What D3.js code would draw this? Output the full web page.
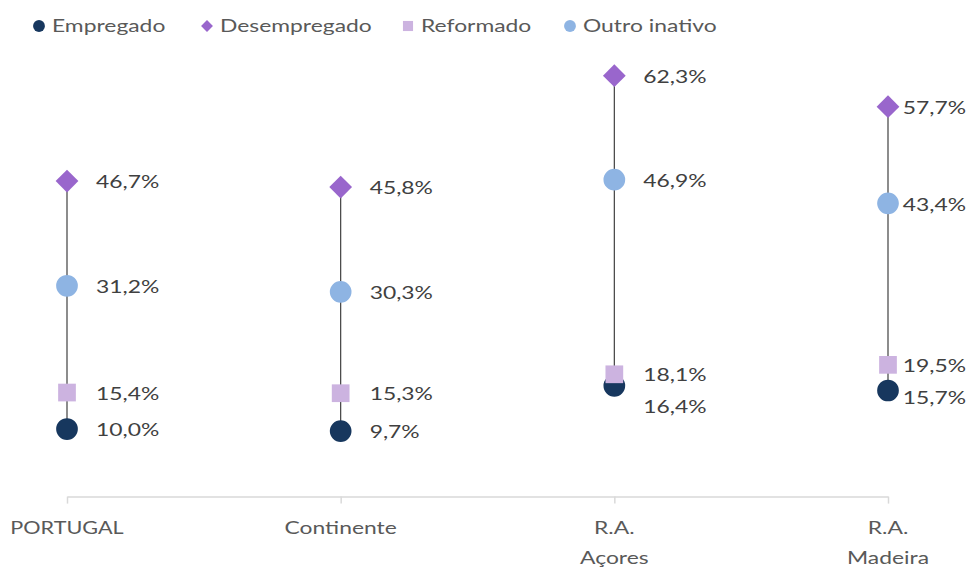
<!DOCTYPE html>
<html>
<head>
<meta charset="utf-8">
<script src="https://cdn.jsdelivr.net/npm/d3@7"></script>
<style>
  body { margin: 0; background: #fff; }
  svg text { font-family: Lato, "Open Sans", sans-serif; }
</style>
</head>
<body>
<div class="chart-container"></div>
<script>
// data
const categories = ["PORTUGAL", "Continente", "R.A. Açores", "R.A. Madeira"];
const seriesNames = ["Empregado", "Desempregado", "Reformado", "Outro inativo"];
const empregado = [10.0, 9.7, 16.4, 15.7];
const desempregado = [46.7, 45.8, 62.3, 57.7];
const reformado = [15.4, 15.3, 18.1, 19.5];
const outroInativo = [31.2, 30.3, 46.9, 43.4];

const seriesValues = [empregado, desempregado, reformado, outroInativo];
const colors = ["#17375e", "#9966cc", "#ccb3e0", "#8eb4e3"];
const shapes = ["circle", "diamond", "square", "circle"];

const width = 970;
const height = 567;
const sx = 1.27; // the reference text is horizontally stretched
const fmt = v => d3.format(".1f")(v).replace(".", ",") + "%";

const svg = d3.select(".chart-container").append("svg")
    .attr("width", width)
    .attr("height", height);

const x = d3.scalePoint().domain(categories).range([67, 888]);
const y = d3.scaleLinear().domain([0, 70]).range([496.6, 23.6]);

function symbolPath(shape, size) {
    const t = shape === "circle" ? d3.symbolCircle : shape === "diamond" ? d3.symbolDiamond2 : d3.symbolSquare2;
    return d3.symbol(t, size)();
}

// axis
const axis = svg.append("g")
    .attr("transform", `translate(0,${y(0)})`)
    .call(d3.axisBottom(x).tickSize(7).tickSizeOuter(0).tickFormat(""));
axis.select(".domain").attr("stroke", "#d9d9d9").attr("stroke-width", 1.5);
axis.selectAll(".tick line").attr("stroke", "#d9d9d9").attr("stroke-width", 1.5);

// category labels
categories.forEach(c => {
    const lines = c.startsWith("R.A.") ? ["R.A.", c.slice(5)] : [c];
    lines.forEach((l, i) => {
        svg.append("text")
            .attr("transform", `translate(${x(c)},${528 + i * 30}) scale(${c === "PORTUGAL" ? 1.2 : sx},1)`)
            .attr("text-anchor", "middle")
            .attr("dy", "0.35em")
            .attr("font-size", 18)
            .attr("fill", "#595959")
            .text(l);
    });
});

// range lines
const g = svg.append("g");
categories.forEach((c, i) => {
    const vals = seriesValues.map(s => s[i]);
    g.append("line")
        .attr("x1", x(c)).attr("x2", x(c))
        .attr("y1", y(d3.min(vals))).attr("y2", y(d3.max(vals)))
        .attr("stroke", "#404040")
        .attr("stroke-width", 1.2);
});

// markers
seriesValues.forEach((s, k) => {
    g.selectAll(null)
        .data(s)
        .enter()
        .append("path")
        .attr("transform", (d, i) => `translate(${x(categories[i])},${y(d)})`)
        .attr("d", symbolPath(shapes[k], shapes[k] === "circle" ? 370 : shapes[k] === "diamond" ? 330 : 400))
        .attr("fill", colors[k]);
});

// value labels, pushed down when they would overlap, kept inside the right edge
categories.forEach((c, i) => {
    const items = seriesValues.map(s => ({ v: s[i], ly: y(s[i]) }))
        .sort((a, b) => a.ly - b.ly);
    for (let j = 1; j < items.length; j++) {
        if (items[j].ly - items[j - 1].ly < 32) items[j].ly = items[j - 1].ly + 32;
    }
    items.forEach(it => {
        const t = svg.append("text")
            .attr("dy", "0.4em")
            .attr("font-size", 18)
            .attr("fill", "#404040")
            .text(fmt(it.v));
        const w = t.node().getComputedTextLength() * sx;
        const lx = Math.min(x(c) + 29, width - 4 - w);
        t.attr("transform", `translate(${lx},${it.ly}) scale(${sx},1)`);
    });
});

// legend
const legendX = [39, 207, 408, 570];
seriesNames.forEach((name, k) => {
    svg.append("path")
        .attr("transform", `translate(${legendX[k]},26)`)
        .attr("d", symbolPath(shapes[k], shapes[k] === "circle" ? 110 : shapes[k] === "diamond" ? 90 : 130))
        .attr("fill", colors[k]);
    svg.append("text")
        .attr("transform", `translate(${legendX[k] + 13},26) scale(${sx},1)`)
        .attr("dy", "0.35em")
        .attr("font-size", 18)
        .attr("fill", "#595959")
        .text(name);
});
</script>
</body>
</html>
